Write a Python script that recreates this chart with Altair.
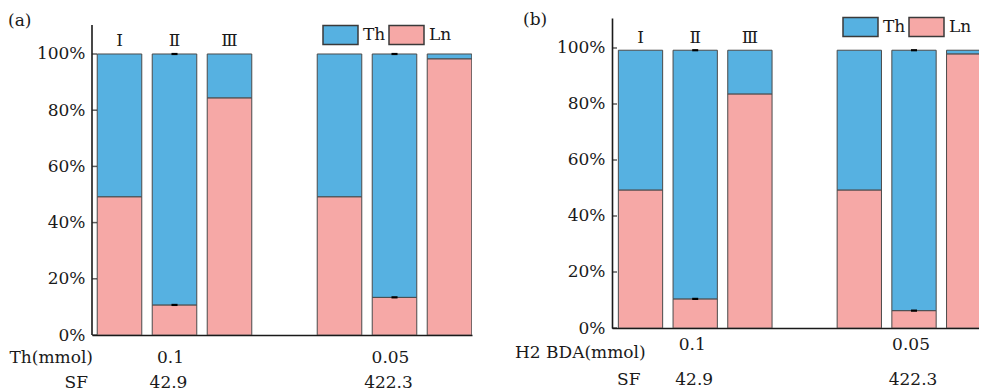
import altair as alt
import pandas as pd

FONT = "DejaVu Serif, Liberation Serif, Noto Serif, serif"
FS = 17
BLUE = "#56B1E1"
PINK = "#F6A8A6"
EDGE = "#4a4a4a"
INK = "#1a1a1a"

species = ["Th", "Ln"]
bar_slots = [0, 1, 2, 4, 5, 6]
numerals = ["I", "Ⅱ", "Ⅲ"]
numeral_slots = [0, 1, 2]
value_slots = [1, 5]

a_ln = [0.492, 0.107, 0.844, 0.492, 0.134, 0.983]
a_total = [1.0, 1.0, 1.0, 1.0, 1.0, 1.0]
a_err_slots = [1, 1, 5, 5]
a_err_vals = [1.0, 0.107, 1.0, 0.134]
a_amount = ["0.1", "0.05"]
a_sf = ["42.9", "422.3"]
a_amount_title = "Th(mmol)"

b_ln = [0.493, 0.104, 0.836, 0.493, 0.062, 0.979]
b_total = [0.992, 0.992, 0.992, 0.992, 0.992, 0.992]
b_err_slots = [1, 1, 5, 5]
b_err_vals = [0.992, 0.104, 0.992, 0.062]
b_amount = ["0.1", "0.05"]
b_sf = ["42.9", "422.3"]
b_amount_title = "H2 BDA(mmol)"

y_ticks = [0, 0.2, 0.4, 0.6, 0.8, 1.0]
RECT_PATH = "M-1,-0.543L1,-0.543L1,0.543L-1,0.543Z"


def panel(tag, ln, total, err_slots, err_vals, amount, sf, amount_title, cfg):
    n = len(bar_slots)
    bars = pd.DataFrame({
        "slot": bar_slots * 2,
        "species": ["Ln"] * n + ["Th"] * n,
        "lo": [0.0] * n + list(ln),
        "hi": list(ln) + list(total),
    })
    xs = alt.Scale(domain=cfg["xdom"], nice=False, zero=False)
    ys = alt.Scale(domain=cfg["ydom"], nice=False, zero=False)
    hw = 0.405

    bar_layer = alt.Chart(bars).transform_calculate(
        x0=f"datum.slot - {hw}", x1=f"datum.slot + {hw}"
    ).mark_rect(stroke=EDGE, strokeWidth=1, clip=True).encode(
        x=alt.X("x0:Q", scale=xs, axis=alt.Axis(labels=False, ticks=False, grid=False, title=None,
                                                 domainColor=INK, domainWidth=1.6)),
        x2="x1:Q",
        y=alt.Y("lo:Q", scale=ys, axis=alt.Axis(values=y_ticks, format=".0%", ticks=False, grid=False,
                                                 title=None, domain=cfg["ydomain_line"], domainColor=INK,
                                                 domainWidth=1.6, labelFont=FONT, labelFontSize=FS,
                                                 labelColor=INK, labelPadding=7)),
        y2="hi:Q",
        color=alt.Color("species:N", scale=alt.Scale(domain=species, range=[BLUE, PINK]),
                        legend=alt.Legend(title=None, orient="none", legendX=cfg["legX"], legendY=cfg["legY"],
                                          direction="horizontal", symbolType=RECT_PATH, symbolSize=1225,
                                          symbolOpacity=1, symbolStrokeColor="#3a3a3a",
                                          symbolStrokeWidth=1.5, labelFont=FONT, labelFontSize=FS,
                                          labelColor=INK, labelOffset=4, columnPadding=0, padding=0)),
    )

    tick_df = pd.DataFrame({"t": y_ticks})
    tick_layer = alt.Chart(tick_df).mark_tick(orient="horizontal", size=5, thickness=1.5,
                                              color=INK).encode(
        x=alt.value(2.5), y=alt.Y("t:Q", scale=ys)
    )

    err = pd.DataFrame({"slot": err_slots, "v": err_vals})
    err_layer = alt.Chart(err).transform_calculate(
        x0="datum.slot - 0.055", x1="datum.slot + 0.055"
    ).mark_rule(color="black", strokeWidth=2.2, clip=True).encode(
        x=alt.X("x0:Q", scale=xs), x2="x1:Q", y=alt.Y("v:Q", scale=ys)
    )

    num = pd.DataFrame({"slot": numeral_slots, "t": numerals,
                        "top": [total[i] for i in range(len(numeral_slots))]})
    num_layer = alt.Chart(num).mark_text(font=FONT, fontSize=FS, color=INK, baseline="middle",
                                         dy=cfg["num_dy"]).encode(
        x=alt.X("slot:Q", scale=xs), y=alt.Y("top:Q", scale=ys), text="t:N"
    )

    vals = pd.DataFrame({"slot": value_slots, "amount": amount, "sf": sf})
    row1 = alt.Chart(vals).mark_text(font=FONT, fontSize=FS, color=INK, baseline="middle",
                                     dx=cfg["row1_dx"]).encode(
        x=alt.X("slot:Q", scale=xs), y=alt.value(cfg["row1_y"]), text="amount:N"
    )
    row2 = alt.Chart(vals).mark_text(font=FONT, fontSize=FS, color=INK, baseline="middle",
                                     dx=cfg["row2_dx"]).encode(
        x=alt.X("slot:Q", scale=xs), y=alt.value(cfg["row2_y"]), text="sf:N"
    )

    titles = pd.DataFrame({"t1": [amount_title], "t2": ["SF"], "tag": [tag]})
    t1 = alt.Chart(titles).mark_text(font=FONT, fontSize=FS, color=INK, baseline="middle",
                                     align=cfg["t1_align"]).encode(
        x=alt.value(cfg["t1_x"]), y=alt.value(cfg["t1_y"]), text="t1:N")
    t2 = alt.Chart(titles).mark_text(font=FONT, fontSize=FS, color=INK, baseline="middle",
                                     align=cfg["t2_align"]).encode(
        x=alt.value(cfg["t2_x"]), y=alt.value(cfg["row2_y"]), text="t2:N")
    t3 = alt.Chart(titles).mark_text(font=FONT, fontSize=FS, color=INK, baseline="middle",
                                     align="left").encode(
        x=alt.value(cfg["tag_x"]), y=alt.value(cfg["tag_y"]), text="tag:N")

    layers = [bar_layer, tick_layer, err_layer, num_layer, row1, row2, t1, t2, t3]
    if cfg.get("axis_top") is not None:
        ax = pd.DataFrame({"lo": [0.0], "hi": [cfg["axis_top"]]})
        layers.append(alt.Chart(ax).mark_rule(color=INK, strokeWidth=1.6).encode(
            x=alt.value(0), y=alt.Y("lo:Q", scale=ys), y2="hi:Q"))

    return alt.layer(*layers).properties(width=cfg["w"], height=cfg["h"])


cfg_a = dict(w=380, h=317, xdom=[-0.5, 6.409], ydom=[0, 1.1281], ydomain_line=False, axis_top=1.103,
             legX=230, legY=-2, num_dy=-13, row1_y=340, row2_y=365, row1_dx=-4, row2_dx=-6,
             t1_x=1, t1_y=340, t1_align="right", t2_x=-4, t2_align="right", tag_x=-84, tag_y=3)
cfg_b = dict(w=367, h=310, xdom=[-0.521, 6.188], ydom=[0, 1.1071], ydomain_line=True, axis_top=None,
             legX=230, legY=-10, num_dy=-12, row1_y=327, row2_y=362, row1_dx=-3, row2_dx=-1,
             t1_x=-97, t1_y=335, t1_align="left", t2_x=5, t2_align="left", tag_x=-89, tag_y=2)

pa = panel("(a)", a_ln, a_total, a_err_slots, a_err_vals, a_amount, a_sf, a_amount_title, cfg_a)
pb = panel("(b)", b_ln, b_total, b_err_slots, b_err_vals, b_amount, b_sf, b_amount_title, cfg_b)

chart = alt.hconcat(pa, pb, bounds="flush", spacing=140).resolve_scale(
    x="independent", y="independent", color="independent"
).properties(
    padding={"left": 0, "top": 0, "right": 0, "bottom": 0},
    background="white",
).configure_view(stroke=None)

chart.save("out.html", embed_options={"renderer": "svg", "actions": False})
